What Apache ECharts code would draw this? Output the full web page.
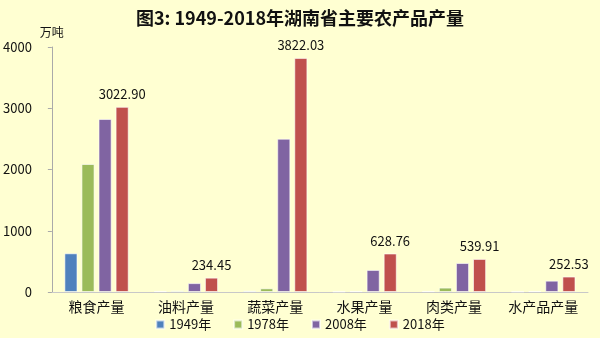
<!DOCTYPE html>
<html><head><meta charset="utf-8">
<script src="https://cdn.jsdelivr.net/npm/echarts@6/dist/echarts.min.js"></script>
<style>html,body{margin:0;padding:0;background:#FFFFD2;}#c{width:600px;height:338px;}</style>
</head><body><div id="c"></div>
<script>
const categories = ['粮食产量','油料产量','蔬菜产量','水果产量','肉类产量','水产品产量'];
const years = ['1949年','1978年','2008年','2018年'];
const v1949 = [632, 15, 20, 10, 15, 10];
const v1978 = [2090, 22, 60, 15, 72, 15];
const v2008 = [2824, 145, 2503, 360, 473, 185];
const v2018 = [3022.90, 234.45, 3822.03, 628.76, 539.91, 252.53];
const colors = ['#4F81BD','#9BBB59','#8064A2','#C0504D'];
const yTicks = [0, 1000, 2000, 3000, 4000];
const font = '"Noto Sans CJK SC", "Open Sans", sans-serif';
const chart = echarts.init(document.getElementById('c'));
const data = [v1949, v1978, v2008, v2018];
chart.setOption({
  backgroundColor: '#FFFFD2',
  animation: false,
  textStyle: {fontFamily: font},
  title: {text: '图3: 1949-2018年湖南省主要农产品产量', left: 'center', top: 4,
    textStyle: {fontSize: 18, fontWeight: 'bold', color: '#111', fontFamily: font}},
  legend: {bottom: 2, left: 'center', itemWidth: 8, itemHeight: 8, itemGap: 22, icon: 'rect',
    textStyle: {fontSize: 13, color: '#111', fontFamily: font}},
  grid: {left: 51, right: 12, top: 47, bottom: 46},
  xAxis: {type: 'category', data: categories,
    axisLine: {lineStyle: {color: '#C8C8C8'}}, axisTick: {show: false},
    axisLabel: {fontSize: 14, color: '#111', margin: 8, interval: 0}},
  yAxis: {type: 'value', min: yTicks[0], max: yTicks[yTicks.length-1], interval: 1000,
    name: '万吨', nameLocation: 'end', nameGap: 9,
    nameTextStyle: {fontSize: 12, color: '#111', align: 'right', padding: [0, -12, 0, 0]},
    axisLine: {show: true, lineStyle: {color: '#AAAAAA'}},
    axisTick: {show: true, length: 4, lineStyle: {color: '#AAAAAA'}},
    splitLine: {show: false},
    axisLabel: {fontSize: 13, color: '#111', margin: 20, formatter: v => String(v)}},
  series: years.map((y, i) => ({
    name: y, type: 'bar', data: data[i], barGap: '30%', barCategoryGap: '28%',
    itemStyle: {color: colors[i], borderColor: 'rgba(255,255,255,0.6)', borderWidth: 1},
    label: i === 3 ? {show: true, position: 'top', distance: 6, fontSize: 13, color: '#111',
      formatter: p => p.value.toFixed(2)} : {show: false}
  }))
});
</script></body></html>
